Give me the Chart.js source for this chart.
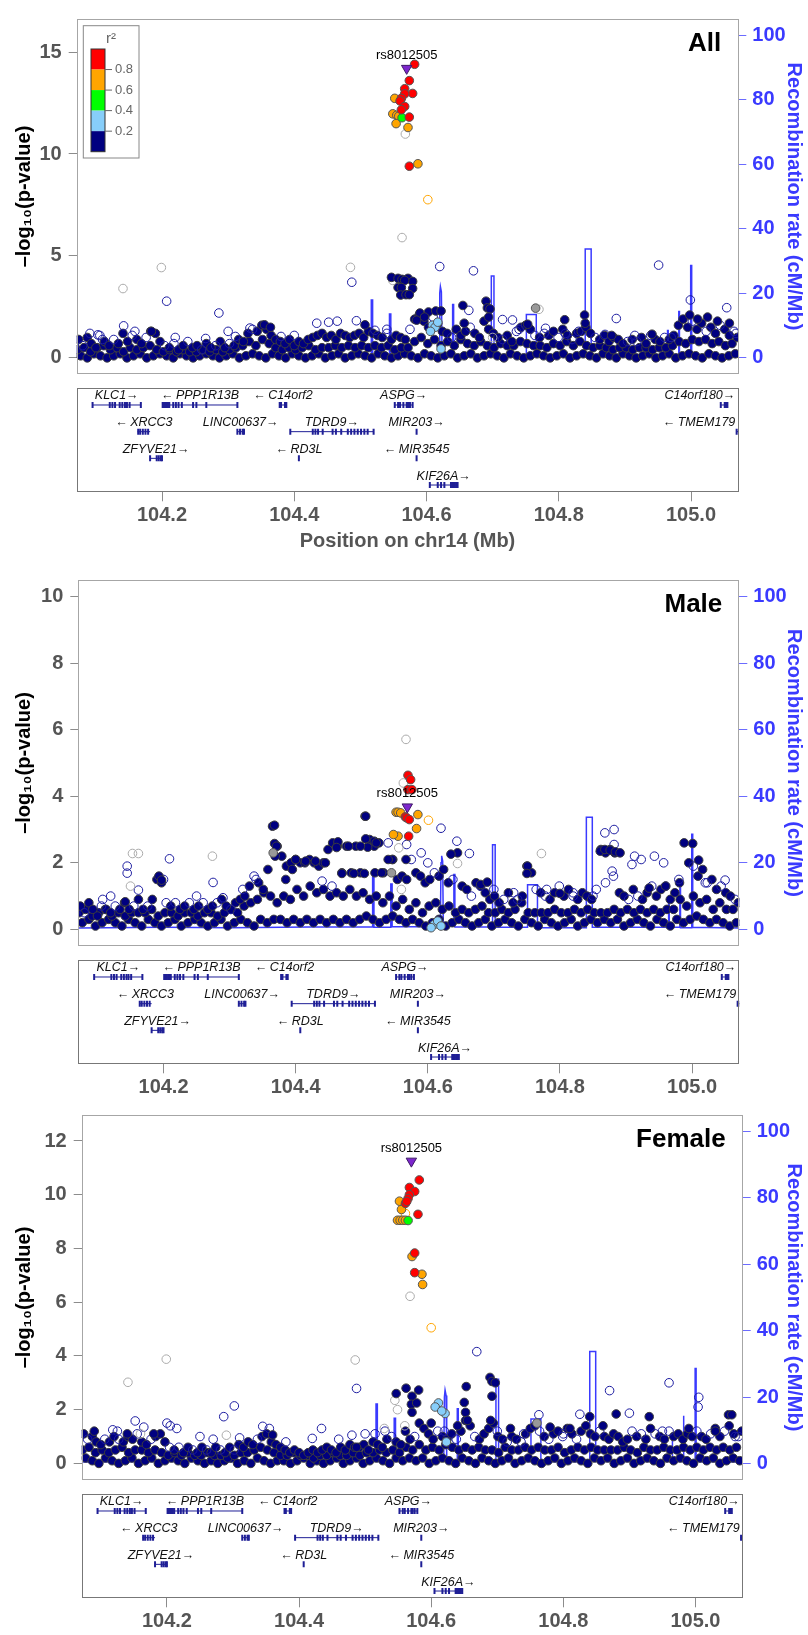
<!DOCTYPE html>
<html lang="en">
<head>
<meta charset="utf-8">
<title>rs8012505 regional association</title>
<style>
  body { margin: 0; background: #fff; }
  #page { position: relative; width: 808px; height: 1635px; }
  #page canvas { position: absolute; left: 0; top: 0; }
</style>
</head>
<body>
<div id="page">
  <canvas id="allPlot" width="808" height="1635"></canvas>
  <canvas id="allGenes" width="808" height="1635"></canvas>
  <canvas id="malePlot" width="808" height="1635"></canvas>
  <canvas id="maleGenes" width="808" height="1635"></canvas>
  <canvas id="femalePlot" width="808" height="1635"></canvas>
  <canvas id="femaleGenes" width="808" height="1635"></canvas>
</div>
<script src="https://cdn.jsdelivr.net/npm/chart.js@4.4.1/dist/chart.umd.min.js"></script>
<script>
// ---- axes ----
var xMin = 104.071, xMax = 105.0715;
var xTicks = [104.2, 104.4, 104.6, 104.8, 105.0];
var recombTicks = [0, 20, 40, 60, 80, 100];
var allYTicks = [0, 5, 10, 15];
var maleYTicks = [0, 2, 4, 6, 8, 10];
var femaleYTicks = [0, 2, 4, 6, 8, 10, 12];
// -log10 p that lines up with 100 cM/Mb in each panel
var allYTop = 15.83, maleYTop = 10, femaleYTop = 12.35;
var leadName = 'rs8012505';
var r2Colors = ['#FF0000', '#FFA500', '#00FF00', '#87CEFA', '#000080'];
var r2Breaks = ['0.8', '0.6', '0.4', '0.2'];

// ---- recombination rate (cM/Mb), same map for every panel ----
var recomb = [
  [104.071,0.4],[104.200,0.6],[104.300,0.5],[104.420,0.7],
  [104.5165,0.7],[104.5165,17.9],[104.5185,17.9],[104.5185,0.6],
  [104.5440,0.6],[104.5440,13.6],[104.5460,13.6],[104.5460,0.8],
  [104.6190,0.8],[104.6200,20.0],[104.6210,22.1],[104.6225,20.5],[104.6235,0.9],
  [104.6395,0.9],[104.6395,16.5],[104.6410,16.5],[104.6410,0.7],
  [104.6980,0.7],[104.6980,25.4],[104.7020,25.4],[104.7020,0.6],
  [104.7510,0.6],[104.7510,13.4],[104.7660,13.4],[104.7660,0.5],
  [104.8400,0.5],[104.8400,33.7],[104.8490,33.7],[104.8490,0.6],
  [104.9645,0.6],[104.9645,8.5],[104.9655,8.5],[104.9655,0.6],
  [104.9815,0.6],[104.9815,14.4],[104.9825,14.4],[104.9825,0.5],
  [104.9995,0.5],[104.9995,28.6],[105.0010,28.6],[105.0010,0.6],
  [105.0715,0.4]
];

// ---- genes ----
var geneNames  = ['KLC1','PPP1R13B','C14orf2','ASPG','C14orf180','XRCC3','LINC00637','TDRD9','MIR203','TMEM179','ZFYVE21','RD3L','MIR3545','KIF26A'];
var geneStart  = [104.095,104.201,104.378,104.552,105.045,104.163,104.314,104.394,104.5845,105.068,104.182,104.4065,104.5845,104.605];
var geneEnd    = [104.168,104.314,104.388,104.579,105.055,104.182,104.324,104.520,104.5855,105.075,104.200,104.4075,104.5855,104.647];
var geneStrand = [1,-1,-1,1,1,-1,1,1,1,-1,1,-1,-1,1];
var geneRow    = [1,1,1,1,1,2,2,2,2,2,3,3,3,4];
var geneExons = [
  [104.095,104.121,104.125,104.129,104.136,104.140,104.144,104.147,104.151,104.168],
  [104.201,104.203,104.205,104.207,104.209,104.211,104.217,104.221,104.225,104.230,104.247,104.252,104.267,104.314],
  [104.378,104.380,104.386,104.388],
  [104.552,104.557,104.560,104.565,104.570,104.572,104.575,104.579],
  [105.045,105.051,105.053,105.055],
  [104.164,104.167,104.171,104.175,104.179],
  [104.314,104.318,104.322,104.324],
  [104.394,104.428,104.432,104.436,104.443,104.458,104.463,104.471,104.481,104.486,104.491,104.496,104.501,104.506,104.511,104.520],
  [104.585],
  [105.069,105.073],
  [104.182,104.192,104.195,104.198,104.200],
  [104.407],
  [104.585],
  [104.605,104.617,104.622,104.627,104.637,104.639,104.641,104.643,104.645,104.647]
];

// ---- background SNPs (r2 < 0.2), positions shared by the three analyses ----
var bandX = [
  104.074,104.080,104.087,104.093,104.100,104.106,104.113,104.120,104.127,104.134,
  104.141,104.148,104.155,104.162,104.169,104.176,104.183,104.190,104.197,104.204,
  104.211,104.218,104.225,104.232,104.239,104.246,104.253,104.260,104.267,104.274,
  104.281,104.288,104.295,104.302,104.309,104.316,104.323,104.330,104.337,104.344,
  104.351,104.358,104.365,104.372,104.379,104.386,104.393,104.400,104.407,104.414,
  104.421,104.428,104.435,104.442,104.449,104.456,104.463,104.470,104.477,104.484,
  104.491,104.498,104.505,104.512,104.519,104.526,104.533,104.540,104.547,104.554,
  104.561,104.568,104.575,104.582,104.589,104.596,104.603,104.610,104.617,104.624,
  104.631,104.638,104.645,104.652,104.659,104.666,104.673,104.680,104.687,104.694,
  104.701,104.708,104.715,104.722,104.729,104.736,104.743,104.750,104.757,104.764,
  104.771,104.778,104.785,104.792,104.799,104.806,104.813,104.820,104.827,104.834,
  104.841,104.848,104.855,104.862,104.869,104.876,104.883,104.890,104.897,104.904,
  104.911,104.918,104.925,104.932,104.939,104.946,104.953,104.960,104.967,104.974,
  104.981,104.988,104.995,105.002,105.009,105.016,105.023,105.030,105.037,105.044,
  105.051,105.058,105.065,105.070
];
// f = genotyped (filled), o = imputed (open)
var bandKind = ('fofffoffof' + 'ffoffofffo' + 'foffoffoff' + 'offoffffof' +
  'ffffffffff' + 'ffffffffff' + 'fffffffoff' + 'ffoffffoff' +
  'fofffoffff' + 'ffoffofffo' + 'foffoffoff' + 'ffoffffffo' +
  'foffoffoff' + 'fffoffoffo' + 'ffof');
var bandAll = [
  0.9,0.6,1.0,0.7,0.5,1.1,0.8,0.6,0.9,0.7,
  1.2,0.8,1.1,0.9,0.7,1.0,1.3,1.2,0.8,0.6,
  0.5,0.7,0.4,0.6,0.8,0.5,0.6,0.4,0.7,0.5,
  0.6,0.8,0.5,0.7,0.6,0.9,0.8,1.2,1.4,1.3,
  1.6,1.4,1.1,0.9,0.8,0.7,0.9,0.6,0.8,0.7,
  0.9,1.0,1.1,1.2,1.0,1.1,0.9,1.2,1.1,1.0,
  1.1,1.2,1.0,1.3,1.2,1.1,1.0,1.2,0.9,1.1,
  1.0,0.9,1.4,1.9,2.1,1.8,1.5,2.0,1.7,1.3,
  1.2,1.0,1.4,1.1,1.3,1.5,1.2,1.0,1.8,1.4,
  1.2,1.0,0.9,1.1,0.8,1.3,1.5,1.6,1.4,1.1,
  1.0,1.2,1.1,1.3,1.0,1.4,1.1,0.9,1.2,1.3,
  1.5,1.2,1.0,0.9,1.1,0.8,1.0,0.9,0.7,0.8,
  0.9,0.8,1.0,0.7,1.1,0.9,0.8,1.0,0.9,1.1,
  1.6,1.9,1.5,1.8,1.4,1.7,1.3,1.5,1.2,1.6,
  1.4,1.1,1.3,1.0
];
var bandMale = [
  0.7,0.5,0.8,0.6,0.4,0.7,0.6,0.5,0.7,0.6,
  0.8,0.6,0.7,0.9,0.6,0.7,0.9,1.5,1.4,0.8,
  0.7,0.8,0.6,0.7,0.8,0.6,0.7,0.8,0.6,0.7,
  0.8,0.9,0.7,0.6,0.8,0.9,1.0,1.3,1.6,1.4,
  1.2,1.8,3.1,2.5,2.2,1.9,2.0,2.1,2.0,2.0,
  2.1,2.0,1.9,2.0,2.4,2.6,2.5,1.7,2.5,1.7,
  2.5,1.7,3.4,2.7,2.5,2.6,1.7,2.6,2.1,1.5,
  1.6,1.5,2.1,1.7,1.6,1.4,1.5,1.7,1.6,1.8,
  1.4,1.5,2.3,1.3,1.2,1.0,1.4,1.3,1.1,0.9,
  1.0,0.8,0.9,1.1,0.8,0.9,1.0,1.9,1.7,1.2,
  1.1,1.0,0.9,1.1,1.3,1.0,1.2,1.0,0.9,1.1,
  1.0,0.9,1.2,2.4,2.3,2.4,2.3,1.1,1.0,0.9,
  1.2,1.0,0.9,1.1,1.3,1.0,1.2,1.3,0.9,1.1,
  1.4,2.6,2.0,1.9,1.6,1.8,1.4,1.5,1.2,1.3,
  1.1,1.0,0.9,0.8
];
var bandFemale = [
  1.1,0.9,1.0,0.8,0.7,0.9,0.8,1.0,0.9,0.8,
  1.0,0.9,1.1,0.8,0.7,0.9,1.0,1.1,0.8,0.6,
  0.5,0.6,0.4,0.6,0.5,0.4,0.6,0.5,0.4,0.6,
  0.5,0.4,0.6,0.5,0.7,0.6,0.8,0.7,0.9,1.0,
  1.1,0.8,0.7,0.6,0.5,0.4,0.5,0.4,0.3,0.4,
  0.5,0.4,0.5,0.6,0.5,0.4,0.6,0.5,0.7,0.6,
  0.6,0.7,0.5,0.8,0.7,0.6,0.9,1.0,0.8,0.7,
  1.2,0.9,1.0,1.5,1.3,1.1,0.9,1.2,1.0,0.9,
  1.1,0.9,1.2,1.6,1.4,1.0,0.9,1.1,1.3,1.5,
  1.0,0.9,0.8,1.0,0.9,0.8,1.1,1.3,1.4,1.2,
  1.0,0.9,1.1,1.2,1.0,1.3,1.1,0.9,1.2,1.4,
  1.1,1.0,1.2,1.0,0.9,1.1,1.0,0.8,0.9,1.2,
  1.0,1.1,0.9,1.3,1.1,1.0,0.9,1.2,1.0,1.1,
  0.9,1.1,1.0,1.2,1.0,0.9,1.1,1.3,1.0,1.2,
  1.4,1.1,1.0,1.2
];
var midX = [
  104.072,104.082,104.092,104.102,104.112,104.122,104.132,104.142,104.152,104.162,
  104.172,104.182,104.192,104.202,104.212,104.222,104.232,104.242,104.252,104.262,
  104.272,104.282,104.292,104.302,104.312,104.322,104.332,104.342,104.352,104.362,
  104.372,104.382,104.392,104.402,104.412,104.422,104.432,104.442,104.452,104.462,
  104.472,104.482,104.492,104.502,104.512,104.522,104.532,104.542,104.552,104.562,
  104.572,104.582,104.592,104.602,104.612,104.622,104.632,104.642,104.652,104.662,
  104.672,104.682,104.692,104.702,104.712,104.722,104.732,104.742,104.752,104.762,
  104.772,104.782,104.792,104.802,104.812,104.822,104.832,104.842,104.852,104.862,
  104.872,104.882,104.892,104.902,104.912,104.922,104.932,104.942,104.952,104.962,
  104.972,104.982,104.992,105.002,105.012,105.022,105.032,105.042,105.052,105.062
];
var midAll = [
  0.4,0.5,0.3,0.5,0.6,0.4,0.5,0.3,0.5,0.4,
  0.5,0.6,0.4,0.3,0.4,0.3,0.4,0.3,0.3,0.4,
  0.3,0.4,0.3,0.4,0.5,0.6,0.8,0.6,0.9,0.7,
  0.5,0.4,0.5,0.4,0.5,0.6,0.4,0.5,0.5,0.6,
  0.5,0.6,0.5,0.6,0.5,0.6,0.5,0.6,0.4,0.5,
  0.5,0.8,1.0,0.7,0.9,0.6,0.8,0.6,0.9,0.7,
  0.6,0.8,0.6,0.5,0.7,0.6,0.6,0.8,0.7,0.6,
  0.6,0.5,0.7,0.6,0.8,0.6,0.8,0.6,0.5,0.6,
  0.5,0.4,0.5,0.5,0.4,0.5,0.5,0.4,0.5,0.5,
  0.6,0.8,0.7,0.9,0.8,0.9,0.7,0.8,0.6,0.7
];
var midMale = [
  0.5,0.6,0.4,0.5,0.6,0.4,0.5,0.4,0.5,0.5,
  0.5,0.6,0.4,0.5,0.5,0.4,0.5,0.5,0.4,0.5,
  0.5,0.4,0.5,0.6,0.5,0.7,0.8,0.9,1.1,1.0,
  0.8,1.0,0.9,1.2,1.0,1.3,1.1,1.2,1.0,1.1,
  1.0,1.2,1.0,1.1,0.9,1.0,0.8,1.0,0.7,0.9,
  0.6,0.8,0.5,0.7,0.8,0.6,0.7,0.5,0.6,0.5,
  0.6,0.7,0.5,0.5,0.6,0.5,0.6,0.8,0.5,0.5,
  0.5,0.5,0.6,0.5,0.5,0.6,0.5,0.6,0.5,0.5,
  0.5,0.6,0.5,0.6,0.5,0.6,0.5,0.6,0.5,0.6,
  0.6,0.9,0.7,1.0,0.8,0.9,0.6,0.8,0.6,0.6
];
var midFemale = [
  0.5,0.6,0.4,0.5,0.4,0.5,0.6,0.4,0.5,0.5,
  0.4,0.5,0.4,0.3,0.4,0.3,0.4,0.3,0.3,0.4,
  0.3,0.3,0.2,0.3,0.4,0.4,0.5,0.6,0.5,0.4,
  0.3,0.3,0.4,0.3,0.3,0.2,0.3,0.3,0.4,0.3,
  0.3,0.4,0.3,0.4,0.4,0.5,0.4,0.5,0.4,0.6,
  0.5,0.7,0.5,0.6,0.5,0.7,0.6,0.5,0.6,0.5,
  0.6,0.5,0.5,0.4,0.6,0.5,0.5,0.6,0.5,0.6,
  0.5,0.5,0.6,0.4,0.5,0.6,0.5,0.6,0.5,0.5,
  0.5,0.5,0.6,0.5,0.4,0.6,0.5,0.5,0.6,0.5,
  0.5,0.6,0.5,0.6,0.5,0.6,0.5,0.6,0.5,0.6
];
var floorX = [
  104.077,104.087,104.097,104.107,104.117,104.127,104.137,104.147,104.157,104.167,
  104.177,104.187,104.197,104.207,104.217,104.227,104.237,104.247,104.257,104.267,
  104.277,104.287,104.297,104.307,104.317,104.327,104.337,104.347,104.357,104.367,
  104.377,104.387,104.397,104.407,104.417,104.427,104.437,104.447,104.457,104.467,
  104.477,104.487,104.497,104.507,104.517,104.527,104.537,104.547,104.557,104.567,
  104.577,104.587,104.597,104.607,104.617,104.627,104.637,104.647,104.657,104.667,
  104.677,104.687,104.697,104.707,104.717,104.727,104.737,104.747,104.757,104.767,
  104.777,104.787,104.797,104.807,104.817,104.827,104.837,104.847,104.857,104.867,
  104.877,104.887,104.897,104.907,104.917,104.927,104.937,104.947,104.957,104.967,
  104.977,104.987,104.997,105.007,105.017,105.027,105.037,105.047,105.057,105.067
];
var floorAll = [
  0.1,0.0,0.2,0.1,0.0,0.1,0.2,0.0,0.1,0.2,
  0.0,0.1,0.2,0.1,0.0,0.2,0.1,0.0,0.1,0.2,
  0.1,0.0,0.1,0.2,0.0,0.1,0.2,0.1,0.0,0.2,
  0.1,0.0,0.2,0.1,0.0,0.1,0.2,0.0,0.1,0.2,
  0.0,0.1,0.2,0.1,0.0,0.2,0.1,0.0,0.1,0.2,
  0.1,0.0,0.2,0.1,0.0,0.1,0.2,0.0,0.1,0.2,
  0.0,0.1,0.2,0.1,0.0,0.2,0.1,0.0,0.1,0.2,
  0.1,0.0,0.1,0.2,0.0,0.1,0.2,0.1,0.0,0.2,
  0.1,0.0,0.2,0.1,0.0,0.1,0.2,0.0,0.1,0.2,
  0.0,0.1,0.2,0.1,0.0,0.2,0.1,0.0,0.1,0.2
];
var floorMale = [
  0.2,0.3,0.1,0.2,0.3,0.2,0.1,0.3,0.2,0.1,
  0.3,0.2,0.1,0.2,0.3,0.1,0.2,0.3,0.2,0.1,
  0.2,0.3,0.1,0.2,0.3,0.2,0.1,0.3,0.2,0.3,
  0.3,0.2,0.3,0.2,0.3,0.2,0.3,0.2,0.3,0.2,
  0.3,0.2,0.3,0.4,0.3,0.2,0.3,0.4,0.3,0.2,
  0.3,0.2,0.1,0.2,0.3,0.1,0.2,0.3,0.2,0.1,
  0.2,0.3,0.1,0.2,0.3,0.2,0.1,0.3,0.2,0.1,
  0.3,0.2,0.1,0.2,0.3,0.1,0.2,0.3,0.2,0.3,
  0.2,0.3,0.1,0.2,0.3,0.2,0.1,0.3,0.2,0.1,
  0.3,0.2,0.3,0.4,0.3,0.2,0.3,0.2,0.1,0.2
];
var floorFemale = [
  0.2,0.1,0.0,0.2,0.1,0.0,0.1,0.2,0.0,0.1,
  0.2,0.0,0.1,0.2,0.1,0.0,0.2,0.1,0.0,0.1,
  0.0,0.1,0.2,0.0,0.1,0.0,0.2,0.1,0.0,0.1,
  0.1,0.0,0.1,0.2,0.0,0.1,0.0,0.1,0.2,0.0,
  0.1,0.2,0.0,0.1,0.2,0.1,0.0,0.2,0.1,0.2,
  0.1,0.2,0.0,0.1,0.2,0.1,0.0,0.2,0.1,0.0,
  0.2,0.1,0.0,0.1,0.2,0.0,0.1,0.2,0.1,0.0,
  0.1,0.2,0.0,0.1,0.2,0.1,0.0,0.2,0.1,0.2,
  0.0,0.1,0.2,0.0,0.1,0.2,0.1,0.0,0.2,0.1,
  0.2,0.1,0.0,0.2,0.1,0.2,0.0,0.1,0.2,0.1
];

// ---- All ----
var allLead = [[104.570,14.2]];
var allRed = [[104.582,14.4],[104.574,13.6],[104.567,13.2],[104.579,12.97],[104.567,12.95],[104.562,12.73],[104.560,12.6],[104.567,12.33],[104.562,12.17],[104.574,11.81],[104.574,9.40]];
var allOrange = [[104.552,12.73],[104.549,11.97],[104.555,11.9],[104.558,11.85],[104.554,11.49],[104.572,11.3],[104.587,9.52]];
var allGreen = [[104.563,11.78]];
var allOrangeOpen = [[104.602,7.76]];
var allLightBlue = [[104.609,1.6],[104.613,1.5],[104.606,1.3],[104.617,1.75],[104.622,0.44]];
var allGrayFill = [[104.765,2.44]];
var allGrayOpen = [[104.568,10.98],[104.563,5.90],[104.141,3.40],[104.199,4.43],[104.485,4.44],[104.770,2.38],[104.549,3.8],[104.700,1.0]];
var allNavyFill = [[104.547,3.95],[104.557,3.9],[104.563,3.85],[104.572,3.9],[104.579,3.75],[104.567,3.8],[104.557,3.45],[104.579,3.4],[104.562,3.45],[104.561,3.08],[104.569,3.1],[104.574,3.1],
  [104.507,1.62],[104.355,1.62],[104.364,1.5],[104.184,1.3],[104.690,2.78],[104.692,2.45],[104.696,2.4],[104.694,2.0],[104.655,2.57],[104.657,1.7],[104.839,2.1],[104.840,1.7],[104.809,1.87],[104.753,1.65],
  [104.590,2.2],[104.603,2.25],[104.614,2.3],[104.622,2.3],[104.597,2.0],[104.585,1.85],[104.998,2.1],[105.010,1.9],[105.025,2.0],[105.040,1.8],[105.058,1.7],[104.941,1.16],[104.880,1.1]];
var allNavyOpen = [[104.207,2.78],[104.286,2.2],[104.487,3.71],[104.494,1.82],[104.434,1.7],[104.452,1.75],[104.465,1.8],[104.142,1.57],[104.159,1.3],[104.103,1.13],[104.091,1.2],
  [104.620,4.48],[104.671,4.27],[104.951,4.55],[104.999,2.84],[105.054,2.46],[104.887,1.93],[104.715,1.88],[104.730,1.86],[104.664,2.33],[104.300,1.3],[104.311,1.05],[104.380,1.05],
  [104.333,1.46],[104.266,0.95],[104.740,1.4],[104.780,1.45],[104.810,1.2],[104.830,1.3],[104.870,1.15],[104.915,1.1],[104.970,1.0],[105.068,1.2],[104.540,1.4],[104.522,1.35],[104.110,0.9],[104.220,1.0],[104.400,1.1]];

// ---- Male ----
var maleLead = [[104.569,3.68]];
var maleRed = [[104.570,4.63],[104.574,4.5],[104.570,4.2],[104.576,4.2],[104.566,3.38],[104.568,3.35],[104.572,3.3],[104.571,2.8]];
var maleOrange = [[104.552,3.52],[104.555,3.52],[104.559,3.5],[104.585,3.45],[104.583,3.03],[104.555,2.8],[104.548,2.85]];
var maleGreen = [];
var maleOrangeOpen = [[104.601,3.28]];
var maleLightBlue = [[104.610,0.15],[104.615,0.25],[104.620,0.1],[104.605,0.05]];
var maleGrayFill = [[104.545,1.7],[104.366,2.3]];
var maleGrayOpen = [[104.567,5.71],[104.563,4.4],[104.153,2.28],[104.162,2.28],[104.274,2.2],[104.772,2.28],[104.645,1.98],[104.556,2.45],[104.560,1.2],[104.150,1.3]];
var maleNavyFill = [[104.368,3.13],[104.368,2.58],[104.371,2.5],[104.369,2.2],[104.506,3.40],[104.506,2.72],[104.509,2.47],[104.464,2.63],[104.462,2.46],[104.480,2.5],[104.498,2.5],[104.519,2.65],[104.522,2.6],
  [104.546,2.1],[104.567,2.1],[104.540,2.1],[104.635,2.26],[104.861,2.35],[104.868,2.4],[104.876,2.38],[104.884,2.33],[104.891,2.3],[105.001,2.58],[105.010,2.08],[104.751,1.9],[104.750,1.68],
  [104.400,2.1],[104.415,2.05],[104.430,2.05],[104.445,2.0],[104.385,1.5],[104.395,1.8],[104.470,1.68],[104.488,1.68],[104.504,1.68],[104.520,1.7],[104.530,1.7],[104.193,1.6],[104.197,1.48],
  [104.142,0.83],[104.680,1.35],[104.690,1.42],[104.800,1.08],[104.960,1.3],[104.935,1.24]];
var maleNavyOpen = [[104.145,1.9],[104.145,1.69],[104.209,2.12],[104.275,1.41],[104.162,1.18],[104.200,1.5],[104.620,3.04],[104.644,2.65],[104.663,2.28],[104.568,2.55],[104.868,2.9],[104.882,3.0],
  [104.882,2.55],[104.879,1.75],[104.881,1.6],[104.869,1.4],[104.909,1.95],[104.913,2.2],[104.923,2.1],[104.943,2.2],[104.957,2.0],[105.050,1.48],[104.680,1.3],[104.700,1.2],[104.730,1.1],
  [104.320,1.2],[104.340,1.5],[104.440,1.45],[104.455,1.3],[104.590,2.3],[104.600,2.0],[104.108,0.9],[104.120,1.0],[104.250,1.0],[104.290,0.95],[104.980,1.5],[105.020,1.4],[104.820,1.1],[104.780,1.2],[104.850,1.0]];

// ---- Female ----
var femaleLead = [[104.570,11.25]];
var femaleRed = [[104.582,10.55],[104.567,10.27],[104.575,10.12],[104.567,10.0],[104.565,9.86],[104.561,9.68],[104.563,9.75],[104.580,9.27],[104.575,7.83],[104.575,7.1]];
var femaleOrange = [[104.552,9.76],[104.555,9.45],[104.549,9.05],[104.553,9.05],[104.557,9.05],[104.561,9.05],[104.571,7.7],[104.586,7.04],[104.587,6.66]];
var femaleGreen = [[104.565,9.04]];
var femaleOrangeOpen = [[104.600,5.05],[104.561,9.3]];
var femaleLightBlue = [[104.611,2.25],[104.606,2.1],[104.621,1.86],[104.623,0.8],[104.616,1.95]];
var femaleGrayFill = [[104.760,1.5]];
var femaleGrayOpen = [[104.568,6.22],[104.141,3.02],[104.199,3.88],[104.485,3.85],[104.549,2.0],[104.529,1.3],[104.545,2.35],[104.560,1.4],[104.160,1.1],[104.290,1.05]];
var femaleNavyFill = [[104.547,2.6],[104.562,2.8],[104.581,2.73],[104.571,2.5],[104.570,2.2],[104.578,2.25],[104.653,2.86],[104.650,2.27],[104.652,1.9],[104.655,1.6],[104.689,3.2],[104.692,3.05],
  [104.697,3.0],[104.692,2.5],[104.690,1.6],[104.810,1.3],[104.840,1.74],[104.880,1.84],[104.930,1.74],[105.050,1.81],[105.055,1.81],[104.360,1.06],[104.487,0.6],[104.571,1.9],[104.600,1.5],
  [104.640,1.4],[104.720,1.3],[104.780,1.35],[104.860,1.4],[104.990,1.3],[105.030,1.2],[104.090,1.2],[104.140,1.1],[104.180,1.1]];
var femaleNavyOpen = [[104.152,1.58],[104.302,2.14],[104.286,1.74],[104.200,1.5],[104.205,1.4],[104.434,1.3],[104.420,0.93],[104.345,1.38],[104.355,1.3],[104.487,2.79],[104.500,1.1],[104.669,4.16],
  [104.870,2.71],[104.960,3.0],[105.005,2.46],[105.004,2.1],[104.763,1.81],[104.825,1.83],[104.900,1.87],[104.118,1.25],[104.125,1.2],[104.165,1.35],[104.215,1.3],[104.250,1.0],[104.270,0.9],
  [104.310,0.95],[104.380,0.8],[104.460,0.9],[104.480,1.05],[104.515,1.1],[104.530,1.2],[104.620,1.2],[104.700,1.2],[104.740,1.1],[104.800,1.1],[104.950,1.2],[105.060,1.0]];

// ---- page layout ----
var W = 808, H = 1635;
var FONT = "'Liberation Sans', Arial, Helvetica, sans-serif";
var BLUE = '#3a3aff';
var GENE_BLUE = '#1f1f96';

Chart.defaults.font.family = FONT;

function pts(list) { return list.map(function (p) { return { x: p[0], y: p[1] }; }); }

function bandPts(ys, kind) {
  var out = [];
  bandX.forEach(function (x, i) { if (bandKind[i] === kind) out.push([x, ys[i]]); });
  return out;
}

function layerPts(xs, ys) { return xs.map(function (x, i) { return [x, ys[i]]; }); }

function marks(list, fill, edge, order, extra) {
  var ds = {
    data: pts(list), order: order, clip: 0,
    pointRadius: 4.3, pointBorderWidth: 1,
    pointBackgroundColor: fill, pointBorderColor: edge
  };
  for (var k in extra) ds[k] = extra[k];
  return ds;
}

var overlay = {
  id: 'overlay',
  afterDatasetsDraw: function (chart, args, opts) {
    var ctx = chart.ctx, a = chart.chartArea;
    ctx.save();
    ctx.strokeStyle = opts.frame || '#a6a6a6';
    ctx.lineWidth = 1;
    ctx.strokeRect(Math.round(a.left) + 0.5, Math.round(a.top) + 0.5,
      Math.round(a.right - a.left) - 1, Math.round(a.bottom - a.top) - 1);
    if (opts.title) {
      ctx.fillStyle = '#000';
      ctx.font = 'bold 26px ' + FONT;
      ctx.textAlign = 'right';
      ctx.textBaseline = 'middle';
      ctx.fillText(opts.title, a.right - 17, a.top + 25);
    }
    if (opts.lead) {
      var lx = chart.scales.x.getPixelForValue(opts.lead[0]);
      var ly = chart.scales.y.getPixelForValue(opts.lead[1]);
      ctx.fillStyle = '#000';
      ctx.font = '13px ' + FONT;
      ctx.textAlign = 'center';
      ctx.textBaseline = 'middle';
      ctx.fillText(leadName, lx, ly - 13);
    }
    if (opts.legend) {
      var bx = a.left + 6.6, by = a.top + 6.7;
      ctx.fillStyle = '#fff';
      ctx.fillRect(bx, by, 55.7, 132.3);
      ctx.strokeStyle = '#888';
      ctx.strokeRect(bx, by, 55.7, 132.3);
      var barX = a.left + 14.3, barTop = a.top + 30, segH = 20.54;
      r2Colors.forEach(function (c, i) {
        ctx.fillStyle = c;
        ctx.fillRect(barX, barTop + i * segH, 14, segH);
      });
      ctx.strokeStyle = '#333';
      ctx.strokeRect(barX, barTop, 14, segH * 5);
      ctx.font = '13px ' + FONT;
      ctx.fillStyle = '#666';
      ctx.strokeStyle = '#666';
      ctx.textAlign = 'left';
      ctx.textBaseline = 'middle';
      r2Breaks.forEach(function (t, i) {
        var y = barTop + (i + 1) * segH;
        ctx.beginPath();
        ctx.moveTo(barX + 14, y);
        ctx.lineTo(barX + 21, y);
        ctx.stroke();
        ctx.fillText(t, barX + 24, y);
      });
      ctx.font = '15px ' + FONT;
      ctx.textAlign = 'center';
      ctx.fillText('r\u00b2', a.left + 34.3, a.top + 19.5);
    }
    ctx.restore();
  }
};

var geneLabels = {
  id: 'geneLabels',
  afterDatasetsDraw: function (chart) {
    var ctx = chart.ctx, a = chart.chartArea, xs = chart.scales.x, ys = chart.scales.y;
    ctx.save();
    ctx.font = 'italic 12.5px ' + FONT;
    ctx.fillStyle = '#111';
    ctx.textBaseline = 'middle';
    ctx.textAlign = 'left';
    geneNames.forEach(function (name, i) {
      var label = geneStrand[i] > 0 ? name + '\u2192' : '\u2190\u2009' + name;
      var w = ctx.measureText(label).width;
      var cx = xs.getPixelForValue((geneStart[i] + geneEnd[i]) / 2);
      var left = Math.min(Math.max(cx - w / 2, a.left + 3), a.right - 3 - w);
      ctx.fillText(label, left, ys.getPixelForValue(geneRow[i]) - 9);
    });
    ctx.restore();
  }
};

function assocChart(id, box, d) {
  var L = box[0], T = box[1], R = box[2], B = box[3];
  var datasets = [
    marks(d.lead, '#7D26CD', '#3d1a66', 0, { pointStyle: 'triangle', pointRotation: 180, pointRadius: 6 }),
    marks(d.red, '#FF0000', '#555', 1),
    marks(d.green, '#00FF00', '#555', 2),
    marks(d.orange, '#FFA500', '#555', 3),
    marks(d.orangeOpen, 'rgba(0,0,0,0)', '#FFA500', 4),
    marks(d.lightBlue, '#87CEFA', '#555', 5),
    marks(d.grayFill, '#999999', '#555', 6),
    marks(d.navyFill, '#000080', '#3c3c3c', 7),
    marks(d.grayOpen, 'rgba(0,0,0,0)', '#aaaaaa', 8),
    marks(d.navyOpen, 'rgba(0,0,0,0)', '#1c1ca0', 9),
    marks(bandPts(d.band, 'o'), 'rgba(0,0,0,0)', '#1c1ca0', 10),
    marks(bandPts(d.band, 'f'), '#000080', '#3c3c3c', 11),
    marks(layerPts(midX, d.mid), '#000080', '#3c3c3c', 12),
    marks(layerPts(floorX, d.floor), '#000080', '#3c3c3c', 13),
    {
      data: pts(recomb), yAxisID: 'y2', order: 30, clip: 0,
      showLine: true, pointRadius: 0, borderColor: BLUE, borderWidth: 1.5, tension: 0
    }
  ];
  return new Chart(document.getElementById(id), {
    type: 'scatter',
    data: { datasets: datasets },
    plugins: [overlay],
    options: {
      responsive: false, animation: false, devicePixelRatio: 1,
      events: [],
      layout: { autoPadding: false, padding: { left: 0, right: 0, top: T, bottom: H - B } },
      plugins: {
        legend: { display: false }, tooltip: { enabled: false },
        overlay: { title: d.title, lead: d.lead[0], legend: d.legend, frame: '#a6a6a6' }
      },
      scales: {
        x: { type: 'linear', min: xMin, max: xMax, display: false },
        y: {
          type: 'linear', position: 'left', min: -0.05 * d.yTop, max: 1.05 * d.yTop,
          afterBuildTicks: function (s) { s.ticks = d.yTicks.map(function (v) { return { value: v }; }); },
          afterFit: function (s) { s.width = L; },
          grid: { drawOnChartArea: false, drawTicks: true, tickLength: 8, color: '#8c8c8c' },
          border: { display: false },
          ticks: { padding: 7, color: '#555', font: { size: 20, weight: 'bold' } },
          title: { display: true, text: '\u2013log\u2081\u2080(p-value)', color: '#000',
            font: { size: 20, weight: 'bold' }, padding: { top: 12, bottom: 0 } }
        },
        y2: {
          type: 'linear', position: 'right', min: -5, max: 105,
          afterBuildTicks: function (s) { s.ticks = recombTicks.map(function (v) { return { value: v }; }); },
          afterFit: function (s) { s.width = W - R; },
          grid: { drawOnChartArea: false, drawTicks: true, tickLength: 8, color: '#6b6bff' },
          border: { display: false },
          ticks: { padding: 6, color: BLUE, font: { size: 20, weight: 'bold' } },
          title: { display: true, text: 'Recombination rate (cM/Mb)', color: BLUE,
            font: { size: 20, weight: 'bold' }, padding: { top: 2, bottom: 0 } }
        }
      }
    }
  });
}

function geneChart(id, box, withTitle) {
  var L = box[0], T = box[1], R = box[2], B = box[3];
  var axisH = withTitle ? 62 : 40;
  var datasets = geneNames.map(function (n, i) {
    return {
      data: [{ x: geneStart[i], y: geneRow[i] }, { x: geneEnd[i], y: geneRow[i] }],
      showLine: true, pointRadius: 0, borderColor: GENE_BLUE, borderWidth: 1, clip: 0
    };
  });
  var exons = [];
  geneExons.forEach(function (list, i) {
    list.forEach(function (x) { exons.push({ x: x, y: geneRow[i] }); });
  });
  datasets.push({
    data: exons, pointStyle: 'line', pointRotation: 90, pointRadius: 3,
    pointBorderWidth: 2, pointBorderColor: GENE_BLUE, clip: 0
  });
  return new Chart(document.getElementById(id), {
    type: 'scatter',
    data: { datasets: datasets },
    plugins: [geneLabels, overlay],
    options: {
      responsive: false, animation: false, devicePixelRatio: 1,
      events: [],
      layout: { autoPadding: false, padding: { left: L, right: W - R, top: T, bottom: H - B - axisH } },
      plugins: { legend: { display: false }, tooltip: { enabled: false }, overlay: { frame: '#777' } },
      scales: {
        x: {
          type: 'linear', position: 'bottom', min: xMin, max: xMax,
          afterBuildTicks: function (s) { s.ticks = xTicks.map(function (v) { return { value: v }; }); },
          afterFit: function (s) { s.height = axisH; },
          grid: { drawOnChartArea: false, drawTicks: true, tickLength: 9, color: '#8c8c8c' },
          border: { display: false },
          ticks: { padding: 2, color: '#555', maxRotation: 0, font: { size: 20, weight: 'bold' },
            callback: function (v) { return Number(v).toFixed(1); } },
          title: { display: withTitle, text: 'Position on chr14 (Mb)', color: '#555',
            font: { size: 20, weight: 'bold' }, padding: { top: 0, bottom: 1 } }
        },
        y: { type: 'linear', reverse: true, min: 0.374, max: 4.273, display: false }
      }
    }
  });
}

assocChart('allPlot', [76.7, 8.3, 738.3, 374], {
  title: 'All', legend: true, yTop: allYTop, yTicks: allYTicks,
  lead: allLead, red: allRed, orange: allOrange, green: allGreen, orangeOpen: allOrangeOpen,
  lightBlue: allLightBlue, grayFill: allGrayFill, grayOpen: allGrayOpen,
  navyFill: allNavyFill, navyOpen: allNavyOpen, band: bandAll, mid: midAll, floor: floorAll
});
geneChart('allGenes', [76.7, 388.3, 738.3, 492.3], true);

assocChart('malePlot', [78.3, 580, 739.3, 946], {
  title: 'Male', legend: false, yTop: maleYTop, yTicks: maleYTicks,
  lead: maleLead, red: maleRed, orange: maleOrange, green: maleGreen, orangeOpen: maleOrangeOpen,
  lightBlue: maleLightBlue, grayFill: maleGrayFill, grayOpen: maleGrayOpen,
  navyFill: maleNavyFill, navyOpen: maleNavyOpen, band: bandMale, mid: midMale, floor: floorMale
});
geneChart('maleGenes', [78.3, 960.3, 739.3, 1064.3], false);

assocChart('femalePlot', [81.7, 1115, 742.7, 1480], {
  title: 'Female', legend: false, yTop: femaleYTop, yTicks: femaleYTicks,
  lead: femaleLead, red: femaleRed, orange: femaleOrange, green: femaleGreen, orangeOpen: femaleOrangeOpen,
  lightBlue: femaleLightBlue, grayFill: femaleGrayFill, grayOpen: femaleGrayOpen,
  navyFill: femaleNavyFill, navyOpen: femaleNavyOpen, band: bandFemale, mid: midFemale, floor: floorFemale
});
geneChart('femaleGenes', [81.7, 1494.3, 742.7, 1598.3], false);
</script>
</body>
</html>
